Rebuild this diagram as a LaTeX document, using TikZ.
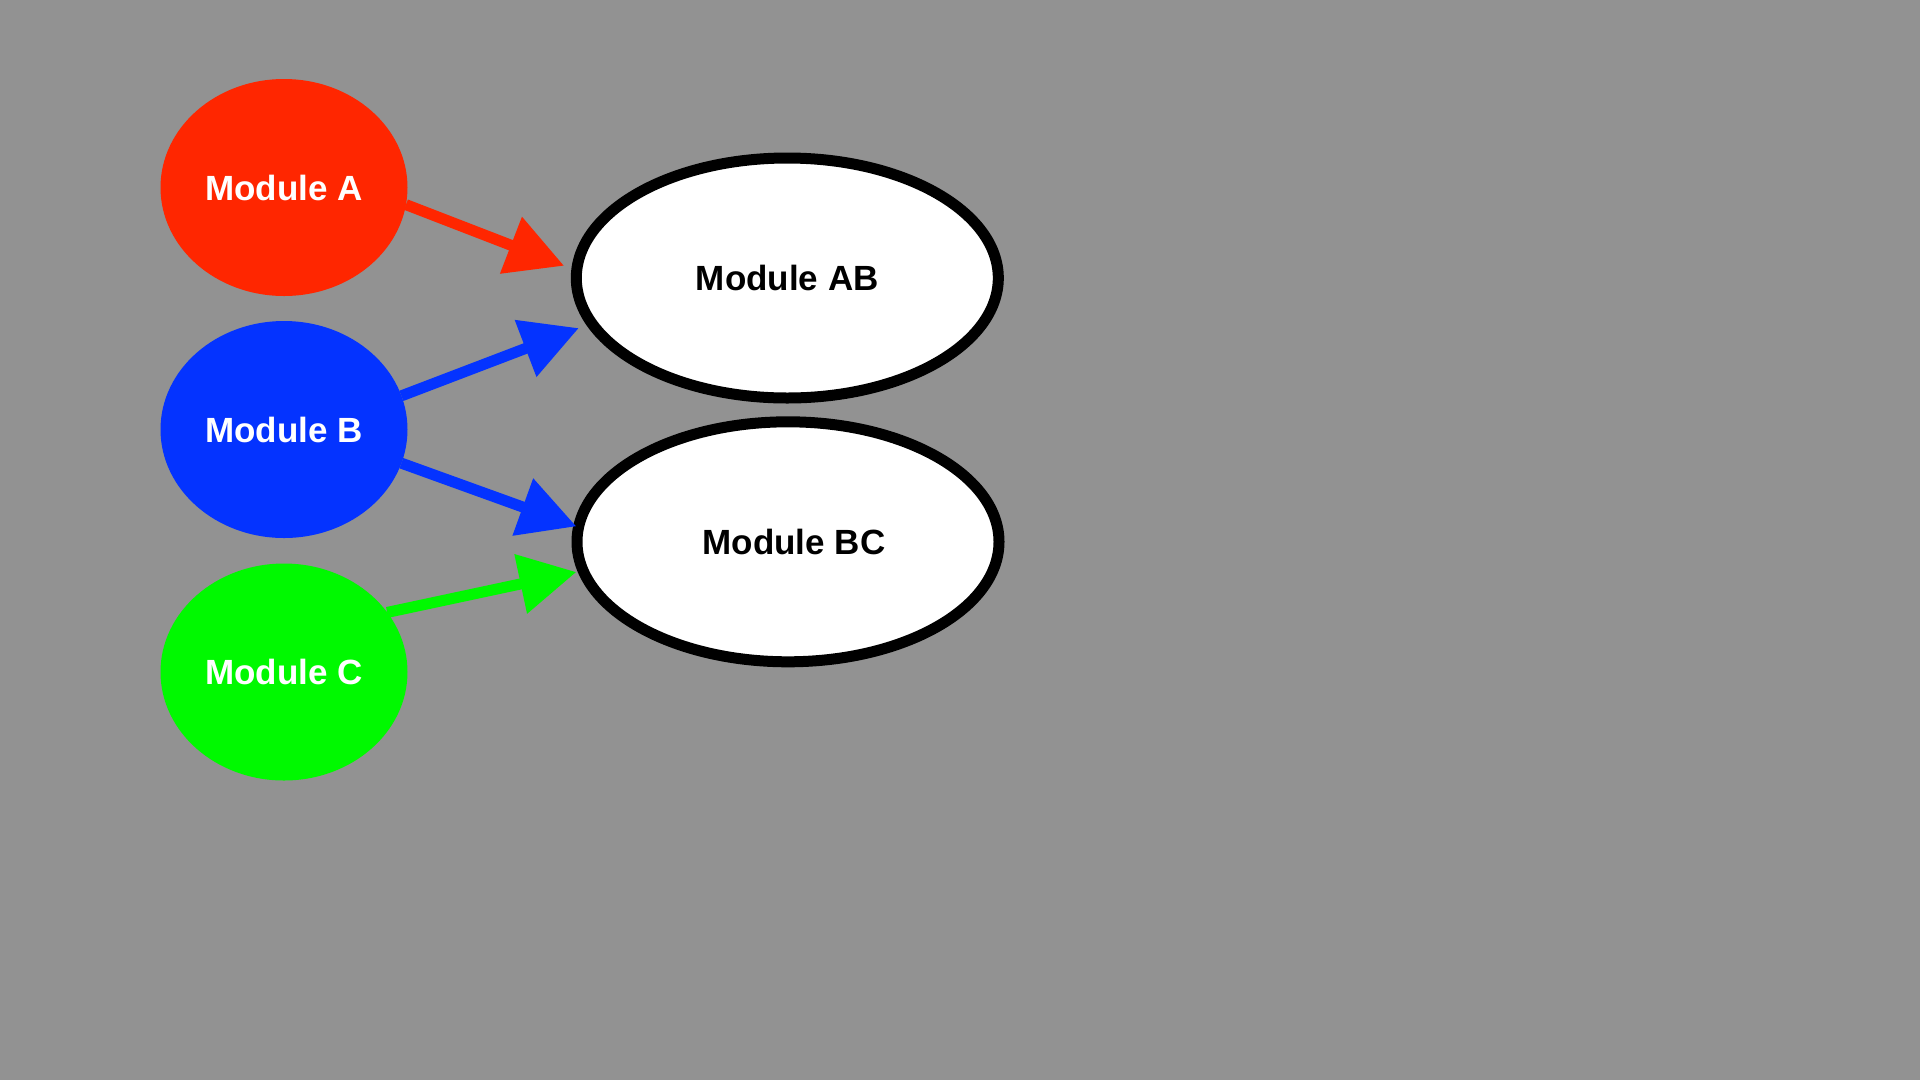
\documentclass[tikz,border=0pt]{standalone}
\usepackage{fontspec}
\setmainfont{Liberation Sans}
\usetikzlibrary{arrows.meta,shapes.geometric}
\definecolor{bgray}{HTML}{929292}
\definecolor{mred}{HTML}{FF2600}
\definecolor{mblue}{HTML}{0433FF}
\definecolor{mgreen}{HTML}{00F900}
\begin{document}
\begin{tikzpicture}[x=1pt,y=-1pt,
  lbl/.style={font=\fontsize{35}{41}\selectfont\bfseries},
  src/.style={ellipse, lbl, inner sep=0pt, outer sep=0pt,
    minimum width=247pt, minimum height=217pt, text=white},
  dst/.style={ellipse, lbl, draw=black, line width=11pt, fill=white,
    inner sep=0pt, outer sep=0pt, minimum width=422pt, minimum height=240pt},
  conn/.style={line width=11pt, -{Triangle[length=57pt,width=58pt]}}]
\fill[bgray] (0,0) rectangle (1920,1080);
\node[src, fill=mred]   (A) at (284,187.5)   {Module A};
\node[src, fill=mblue]  (B) at (284,429.5)   {Module B};
\node[src, fill=mgreen] (C) at (284,672) {Module C};
\node[dst] (AB) at (787.3,278) {Module AB};
\node[dst] (BC) at (788,541.8)   {\hspace{12pt}Module BC};
\draw[conn, mred,   shorten >=13.5pt] (A.-8.5)  -- (AB.178.48);
\draw[conn, mblue,  shorten >=13.9pt] (B.16.1)  -- (AB.193.25);
\draw[conn, mblue,  shorten >=2.3pt]  (B.-16.5) -- (BC.176.51);
\draw[conn, mgreen, shorten >=6.9pt]  (C.30.6)  -- (BC.188.56);
\end{tikzpicture}
\end{document}
